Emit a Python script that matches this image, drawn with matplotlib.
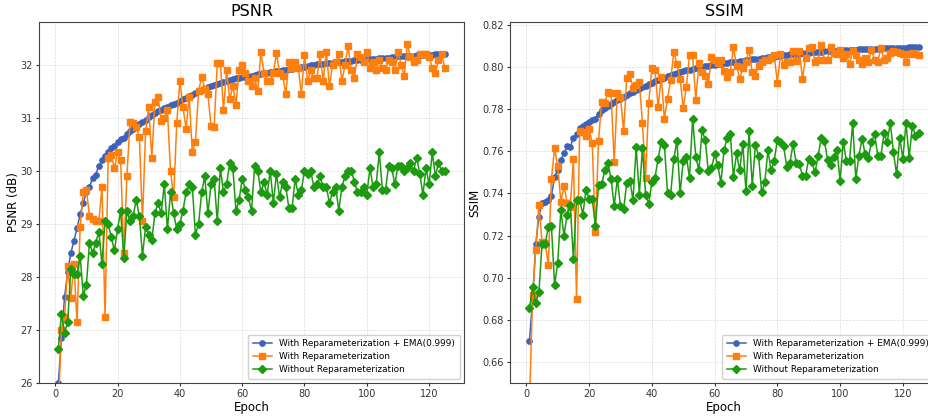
import numpy as np
import matplotlib
matplotlib.use('Agg')
import matplotlib.pyplot as plt

epochs = list(range(1, 126))

# PSNR
psnr_ema = [26.00, 26.85, 27.62, 28.10, 28.45, 28.68, 28.92, 29.18, 29.40, 29.60,
            29.70, 29.87, 29.93, 30.10, 30.20, 30.28, 30.35, 30.43, 30.48, 30.55,
            30.60, 30.63, 30.70, 30.76, 30.80, 30.84, 30.88, 30.92, 30.96, 31.02,
            31.06, 31.10, 31.13, 31.15, 31.18, 31.21, 31.24, 31.27, 31.29, 31.32,
            31.35, 31.38, 31.41, 31.44, 31.47, 31.50, 31.52, 31.55, 31.58, 31.60,
            31.62, 31.64, 31.66, 31.68, 31.70, 31.72, 31.73, 31.75, 31.76, 31.77,
            31.78, 31.79, 31.80, 31.81, 31.82, 31.83, 31.84, 31.85, 31.86, 31.87,
            31.88, 31.89, 31.90, 31.91, 31.92, 31.93, 31.94, 31.95, 31.96, 31.97,
            31.98, 31.99, 32.00, 32.01, 32.01, 32.02, 32.03, 32.04, 32.04, 32.05,
            32.06, 32.06, 32.07, 32.08, 32.08, 32.09, 32.09, 32.10, 32.10, 32.11,
            32.11, 32.12, 32.12, 32.13, 32.13, 32.14, 32.14, 32.15, 32.15, 32.16,
            32.16, 32.16, 32.17, 32.17, 32.17, 32.18, 32.18, 32.18, 32.19, 32.19,
            32.19, 32.20, 32.20, 32.20, 32.21]
psnr_rep = [25.50, 27.00, 27.25, 28.20, 27.60, 28.25, 27.15, 28.95, 29.60, 29.65,
            29.15, 29.10, 29.05, 29.05, 29.70, 27.25, 30.25, 30.30, 30.05, 30.35,
            30.20, 28.45, 29.90, 30.92, 30.90, 30.82, 30.65, 29.05, 30.75, 31.20,
            30.25, 31.30, 31.40, 30.95, 31.00, 31.15, 30.00, 29.50, 30.90, 31.70,
            31.20, 30.80, 31.40, 30.35, 30.55, 31.50, 31.78, 31.55, 31.45, 30.85,
            30.83, 32.03, 32.03, 31.15, 31.90, 31.35, 31.60, 31.25, 31.90, 32.00,
            31.85, 31.70, 31.60, 31.75, 31.50, 32.25, 31.85, 31.70, 31.70, 31.85,
            32.22, 31.85, 31.80, 31.45, 32.05, 31.95, 32.05, 31.95, 31.45, 32.18,
            31.70, 31.90, 31.75, 31.75, 32.20, 31.70, 32.25, 31.60, 32.00, 32.05,
            32.20, 31.70, 32.00, 32.35, 31.90, 31.75, 32.20, 32.15, 32.05, 32.25,
            31.95, 32.05, 31.90, 32.10, 31.95, 31.90, 32.10, 32.05, 31.90, 32.25,
            32.00, 31.80, 32.40, 32.15, 32.05, 32.10, 32.20, 32.20, 32.20, 32.15,
            31.95, 31.85, 32.10, 32.20, 31.95]
psnr_norep = [26.65, 27.30, 26.95, 27.15, 28.15, 28.05, 28.05, 28.40, 27.65, 27.85,
              28.65, 28.45, 28.65, 28.85, 28.25, 29.05, 29.00, 28.75, 28.50, 28.90,
              29.25, 28.35, 29.25, 29.05, 29.15, 29.45, 29.15, 28.40, 28.95, 28.80,
              28.70, 29.20, 29.40, 29.20, 29.75, 28.90, 29.60, 29.20, 28.90, 29.00,
              29.25, 29.60, 29.75, 29.70, 28.80, 29.00, 29.60, 29.90, 29.20, 29.75,
              29.85, 29.05, 30.05, 29.60, 29.75, 30.15, 30.05, 29.25, 29.45, 29.85,
              29.65, 29.50, 29.25, 30.10, 30.00, 29.60, 29.80, 29.55, 30.00, 29.40,
              29.95, 29.50, 29.80, 29.70, 29.30, 29.30, 29.85, 29.55, 29.65, 30.00,
              29.95, 30.00, 29.70, 29.75, 29.90, 29.70, 29.70, 29.40, 29.60, 29.70,
              29.25, 29.70, 29.90, 30.00, 30.00, 29.80, 29.60, 29.60, 29.70, 29.55,
              30.05, 29.70, 29.75, 30.35, 29.65, 29.65, 30.10, 30.05, 29.75, 30.10,
              30.10, 30.00, 30.05, 30.15, 30.00, 30.25, 29.95, 29.55, 30.05, 29.75,
              30.35, 29.90, 30.15, 30.00, 30.00]

# SSIM
ssim_ema = [0.670, 0.690, 0.716, 0.729, 0.7355, 0.736, 0.737, 0.739, 0.748, 0.751,
            0.756, 0.759, 0.7625, 0.762, 0.7665, 0.768, 0.771, 0.772, 0.773, 0.774,
            0.775, 0.7755, 0.7775, 0.7795, 0.7805, 0.7815, 0.7825, 0.7835, 0.7845, 0.785,
            0.786, 0.7868, 0.7876, 0.7884, 0.789, 0.7898, 0.7905, 0.791, 0.7918, 0.7925,
            0.7932, 0.7938, 0.7944, 0.795, 0.7956, 0.7961, 0.7966, 0.7971, 0.7976, 0.798,
            0.7984, 0.7988, 0.7991, 0.7994, 0.7997, 0.8000, 0.8003, 0.8006, 0.8009, 0.8012,
            0.8014, 0.8016, 0.8018, 0.802, 0.8022, 0.8024, 0.8026, 0.8028, 0.803, 0.8032,
            0.8034, 0.8036, 0.8038, 0.804, 0.8042, 0.8044, 0.8046, 0.8048, 0.805, 0.8052,
            0.8054, 0.8056, 0.8058, 0.806, 0.8061, 0.8063, 0.8064, 0.8066, 0.8067, 0.8069,
            0.807, 0.8071, 0.8072, 0.8073, 0.8074, 0.8075, 0.8076, 0.8077, 0.8078, 0.8079,
            0.808, 0.8081, 0.8082, 0.8082, 0.8083, 0.8084, 0.8084, 0.8085, 0.8086, 0.8086,
            0.8087, 0.8088, 0.8088, 0.8089, 0.8089, 0.809, 0.809, 0.8091, 0.8091, 0.8092,
            0.8092, 0.8093, 0.8093, 0.8094, 0.8094]
ssim_rep = [0.640, 0.692, 0.713, 0.7345, 0.717, 0.7165, 0.706, 0.747, 0.7615, 0.753,
            0.736, 0.7435, 0.7355, 0.7335, 0.7565, 0.690, 0.7695, 0.769, 0.7675, 0.7705,
            0.764, 0.7215, 0.765, 0.7835, 0.783, 0.788, 0.7875, 0.755, 0.7875, 0.786,
            0.7695, 0.795, 0.7965, 0.790, 0.7915, 0.793, 0.7735, 0.7475, 0.783, 0.7995,
            0.7985, 0.781, 0.7955, 0.7755, 0.785, 0.794, 0.807, 0.8015, 0.7945, 0.7805,
            0.7905, 0.8055, 0.8055, 0.7845, 0.802, 0.7975, 0.796, 0.792, 0.805, 0.8035,
            0.802, 0.8035, 0.798, 0.7955, 0.7975, 0.8095, 0.8005, 0.7945, 0.7995, 0.8025,
            0.808, 0.7975, 0.796, 0.8005, 0.8025, 0.8035, 0.8035, 0.8045, 0.8055, 0.7925,
            0.806, 0.801, 0.8025, 0.8025, 0.8075, 0.803, 0.8075, 0.7945, 0.8045, 0.809,
            0.8095, 0.8025, 0.8035, 0.8105, 0.8035, 0.8035, 0.8095, 0.8065, 0.806, 0.808,
            0.8045, 0.806, 0.8015, 0.8075, 0.8055, 0.8035, 0.8015, 0.8045, 0.8025, 0.808,
            0.8035, 0.8025, 0.809, 0.8035, 0.8045, 0.8065, 0.8075, 0.807, 0.8065, 0.806,
            0.8025, 0.806, 0.8065, 0.806, 0.8055]
ssim_norep = [0.6855, 0.6955, 0.688, 0.693, 0.716, 0.716, 0.724, 0.7245, 0.6965, 0.707,
              0.732, 0.720, 0.730, 0.7345, 0.709, 0.737, 0.737, 0.730, 0.7415, 0.7375,
              0.7375, 0.7245, 0.744, 0.7445, 0.751, 0.7545, 0.747, 0.734, 0.747, 0.734,
              0.7325, 0.745, 0.746, 0.737, 0.762, 0.7395, 0.7615, 0.7395, 0.735, 0.7455,
              0.7475, 0.7565, 0.7645, 0.763, 0.740, 0.7395, 0.7565, 0.765, 0.740, 0.7555,
              0.7575, 0.7475, 0.7755, 0.7575, 0.751, 0.770, 0.7655, 0.7505, 0.752, 0.7585,
              0.7535, 0.745, 0.7605, 0.7665, 0.768, 0.748, 0.759, 0.751, 0.7635, 0.741,
              0.7695, 0.7435, 0.763, 0.758, 0.7405, 0.7455, 0.7605, 0.751, 0.7555, 0.7655,
              0.7645, 0.7625, 0.7525, 0.7545, 0.7635, 0.7545, 0.754, 0.7485, 0.7485, 0.7565,
              0.755, 0.750, 0.758, 0.7665, 0.765, 0.756, 0.7535, 0.7575, 0.7605, 0.746,
              0.7645, 0.7555, 0.7555, 0.7735, 0.747, 0.758, 0.766, 0.7585, 0.757, 0.7645,
              0.768, 0.758, 0.758, 0.7685, 0.7645, 0.7735, 0.7595, 0.749, 0.7665, 0.7565,
              0.7735, 0.757, 0.772, 0.7675, 0.7685]

labels = ['With Reparameterization + EMA(0.999)', 'With Reparameterization', 'Without Reparameterization']
c_blue = '#3d62b8'
c_orange = '#ff7f0e'
c_green = '#1c9a10'

fig = plt.figure(figsize=(9.29, 4.16), dpi=100)
ax1 = fig.add_axes([0.042, 0.0793, 0.4575, 0.8678])
ax2 = fig.add_axes([0.549, 0.0793, 0.4607, 0.8678])

def draw(ax, ema, rep, norep, title, ylabel, ylim):
    ax.plot(epochs, ema, marker='o', color=c_blue, markersize=3.8, linewidth=1.1, label=labels[0])
    ax.plot(epochs, rep, marker='s', color=c_orange, markersize=5, linewidth=1.1, label=labels[1])
    ax.plot(epochs, norep, marker='D', color=c_green, markersize=4.5, linewidth=1.1, label=labels[2])
    ax.set_title(title, fontsize=11.5, pad=4)
    ax.set_xlabel('Epoch', fontsize=8.5, labelpad=1)
    ax.set_ylabel(ylabel, fontsize=8.5, labelpad=0.5)
    ax.set_ylim(*ylim)
    ax.grid(True, linestyle='--', linewidth=0.5, color='#cccccc', alpha=0.7)
    ax.tick_params(labelsize=7, colors='#333333', length=2.5, pad=2)
    for s in ax.spines.values():
        s.set_color('#444444')
    ax.legend(loc='lower right', fontsize=6.4, framealpha=0.9, borderpad=0.5,
              handlelength=2.2, labelspacing=0.45)

draw(ax1, psnr_ema, psnr_rep, psnr_norep, 'PSNR', 'PSNR (dB)', (26, 32.81))
draw(ax2, ssim_ema, ssim_rep, ssim_norep, 'SSIM', 'SSIM', (0.65, 0.8214))

plt.savefig('out.png', dpi=100)
